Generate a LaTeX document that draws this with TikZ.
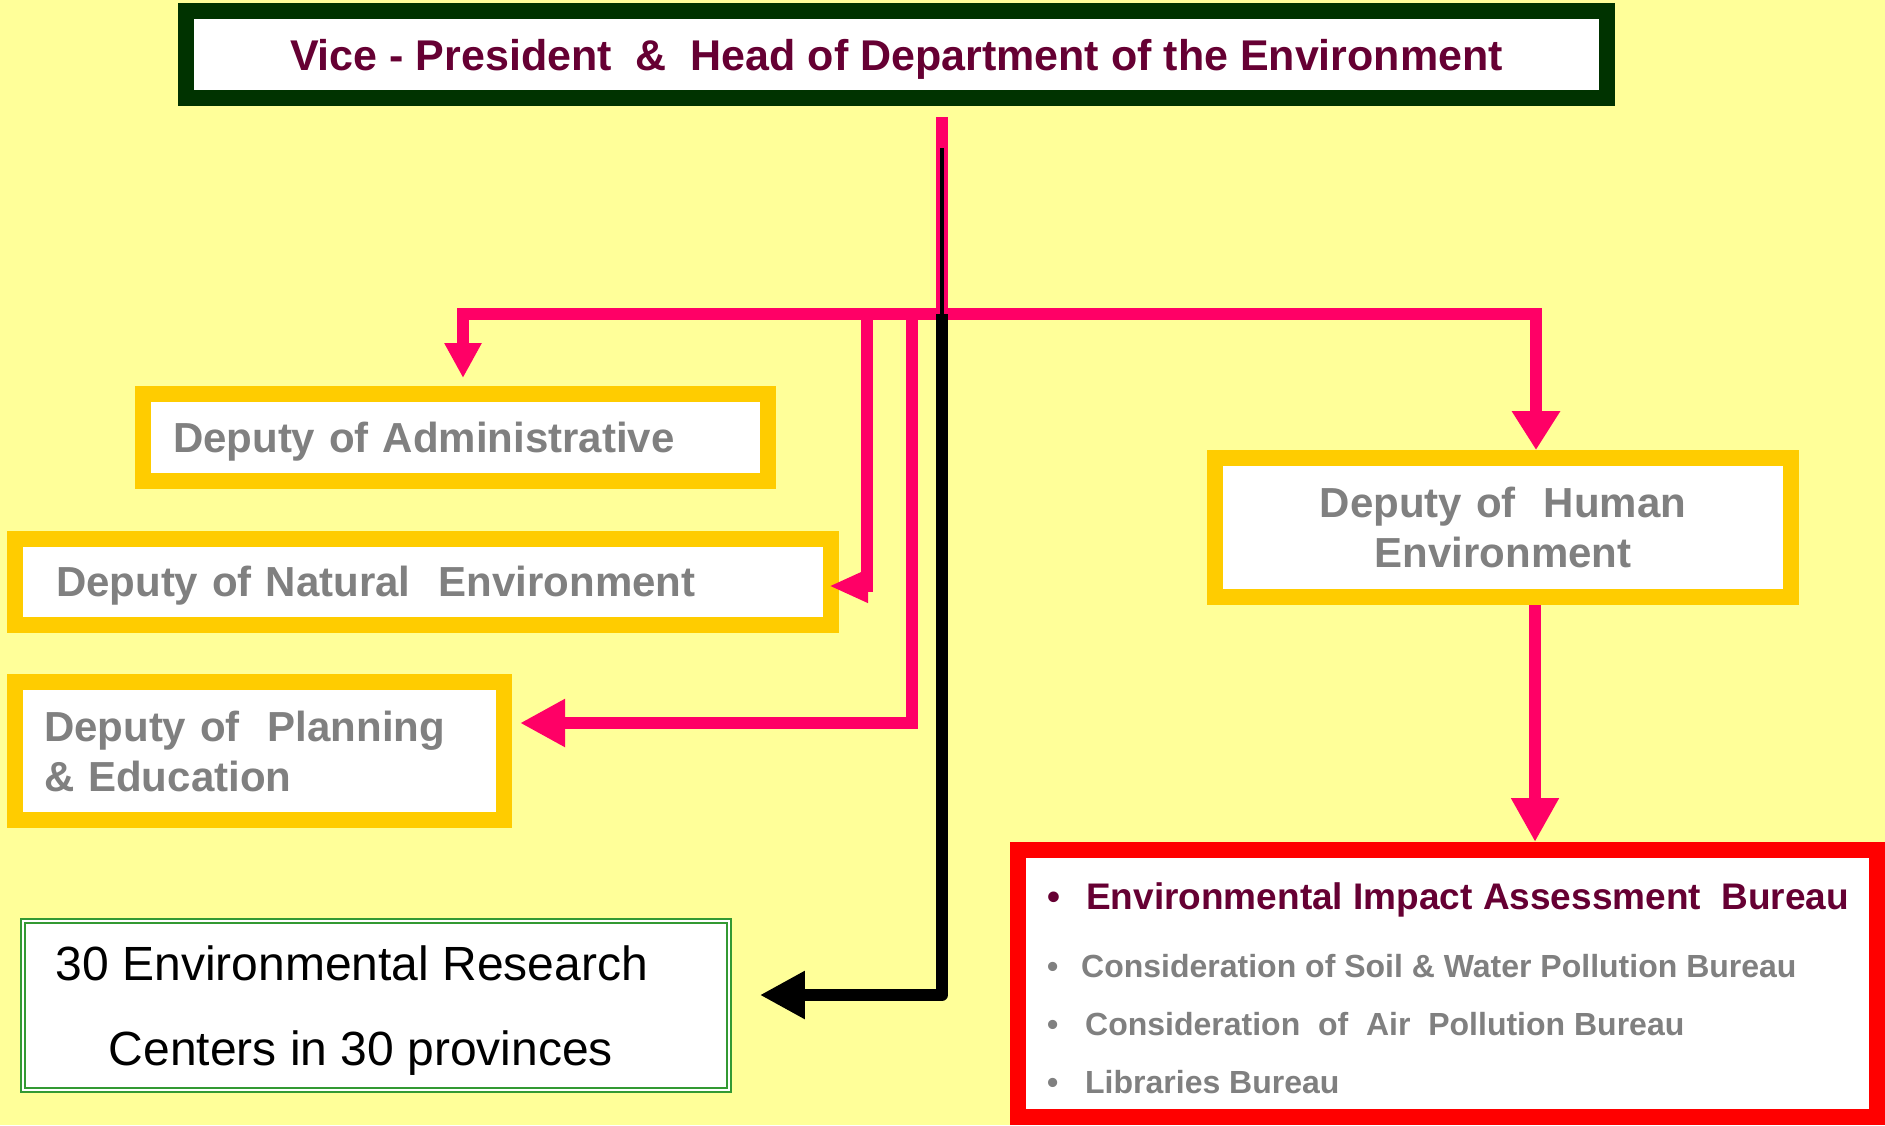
\documentclass[tikz,border=0pt]{standalone}
\usepackage{fontspec}
\setmainfont{Liberation Sans}
\usetikzlibrary{arrows.meta}
\definecolor{bgyellow}{HTML}{FFFF99}
\definecolor{linkpink}{HTML}{FF0066}
\definecolor{boxgold}{HTML}{FFCC00}
\definecolor{vpgreen}{HTML}{003300}
\definecolor{headmaroon}{HTML}{660033}
\definecolor{textgrey}{HTML}{808080}
\definecolor{bureaured}{HTML}{FF0000}
\definecolor{centregreen}{HTML}{339933}
\tikzset{
    deputy/.style={draw=boxgold, line width=16pt, fill=white, text=textgrey,
        font=\fontsize{42pt}{50pt}\selectfont\bfseries},
    link/.style={draw=linkpink, line width=12pt},
    headtip/.style 2 args={-{Triangle[length=#1pt,width=#2pt]}},
    item/.style={anchor=base west, inner sep=0pt, text=textgrey,
        font=\fontsize{32pt}{38pt}\selectfont\bfseries}
}
\begin{document}
\begin{tikzpicture}[x=1pt, y=-1pt]
            \fill[bgyellow] (0,0) rectangle (1885,1125);
            \useasboundingbox (0,0) rectangle (1885,1125);
            \begin{scope}
                \node[name=vp, draw=vpgreen, line width=16pt, fill=white, text=headmaroon,
                    font=\fontsize{43pt}{50pt}\selectfont\bfseries, text depth=0pt,
                    minimum width=1421pt, minimum height=87pt] at (896.5,54.5) (vp)
                    {Vice - President\ \ \&\ \ Head of Department of the Environment};
                \node[name=admin, deputy, minimum width=625pt, minimum height=87pt, text depth=0pt,
                    inner xsep=30pt, text width=565pt, align=left] at (455.5,437.5) (admin)
                    {Deputy of Administrative};
                \node[name=natural, deputy, minimum width=816pt, minimum height=86pt, text depth=0pt,
                    inner xsep=41pt, text width=734pt, align=left] at (423,581.5) (natural)
                    {Deputy of Natural\ \ Environment};
                \node[name=planning, deputy, minimum width=489pt, minimum height=138pt,
                    inner xsep=29pt, text width=431pt, align=left] at (259.5,751) (planning)
                    {Deputy of\ \ Planning\\\& Education};
                \node[name=human, deputy, minimum width=576pt, minimum height=139pt,
                    text width=500pt, align=center] at (1503,527.5) (human)
                    {Deputy of\ \ Human\\Environment};
                \node[name=research, draw=centregreen, line width=2pt, double=white,
                    double distance=2pt, fill=white, text=black, align=center, text depth=0pt,
                    font=\fontsize{48pt}{85pt}\selectfont,
                    minimum width=706pt, minimum height=169pt] at (375.8,1005.5) (research)
                    {30 Environmental Research\hspace*{48pt}\\Centers in 30 provinces\hspace*{30pt}};
                \node[name=bureau, draw=bureaured, line width=16pt, fill=white,
                    minimum width=859pt, minimum height=267pt] at (1447.5,983.5) (bureau) {};
                \node[name=eia, item, text=headmaroon, font=\fontsize{37pt}{40pt}\selectfont\bfseries]
                    at (1086,909) (eia) {\llap{•\hspace{26pt}}Environmental Impact Assessment\ \ Bureau};
                \node[name=soil, item] at (1081,977) (soil)
                    {\llap{•\hspace{23pt}}Consideration of Soil \& Water Pollution Bureau};
                \node[name=air, item] at (1085,1035) (air)
                    {\llap{•\hspace{27pt}}Consideration\ \ of\ \ Air\ \ Pollution Bureau};
                \node[name=lib, item] at (1085,1093) (lib)
                    {\llap{•\hspace{27pt}}Libraries Bureau};

                \coordinate (trunktop) at (942,117);
                \coordinate (blacktop) at (942,148);
                \coordinate (hub) at (942,314);
                \coordinate (natdrop) at (867,314);
                \coordinate (plandrop) at (912,314);
                \draw[link] (trunktop) -- (hub);
                \draw[link, headtip={35}{35}] (hub) -| ([xshift=7.5pt,yshift=8pt]admin.north);
                \draw[link, headtip={39}{46}] (hub) -| ([xshift=33pt]human.north);
                \draw[link, headtip={39}{31}] (natdrop) |- ([xshift=-10pt,yshift=-4.5pt]natural.east);
                \draw[link, headtip={45}{45}] (plandrop) |- ([xshift=8pt,yshift=28pt]planning.east);
                \draw[link, headtip={44}{45}] ([xshift=32pt]human.south) -- ([xshift=32pt]human.south |- bureau.north);
                \draw[black, line width=4pt] (blacktop) -- (hub);
                \draw[black, line width=12pt, line join=round, headtip={45}{45}]
                    (hub) |- ([xshift=30pt,yshift=10.5pt]research.east);
            \end{scope}
\end{tikzpicture}
\end{document}
